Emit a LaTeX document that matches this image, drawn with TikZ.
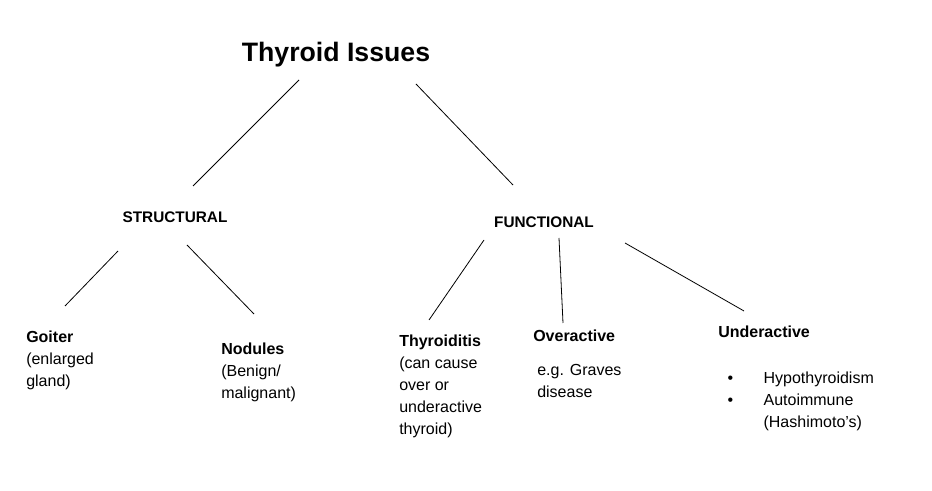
\documentclass[tikz,border=0pt]{standalone}
\usepackage{fontspec}
\setmainfont{Liberation Sans}
\usetikzlibrary{positioning}
\tikzset{
  head/.style={font=\fontsize{20}{24}\selectfont\bfseries},
  group/.style={font=\fontsize{11.5}{14}\selectfont\bfseries},
  item/.style={anchor=north west, inner sep=0pt, align=left, font=\fontsize{12}{16.5}\selectfont},
  link/.style={line width=0.6pt}
}
\begin{document}
\begin{tikzpicture}[x=0.75pt, y=-0.75pt]
  \useasboundingbox (0,0) rectangle (932,491);
  % Nodes
  \node (title) [head] at (336,55) {Thyroid Issues};
  \node (struct) [group] at (175,217) {STRUCTURAL};
  \node (func) [group] at (544,222) {FUNCTIONAL};
  \node (goiter) [item] at (26,331) {\textbf{Goiter}\\(enlarged\\gland)};
  \node (nodules) [item] at (221,343) {\textbf{Nodules}\\(Benign/\\malignant)};
  \node (thyroiditis) [item] at (399,335) {\textbf{Thyroiditis}\\(can cause\\over or\\underactive\\thyroid)};
  \node (over) [item] at (533,330) {\textbf{Overactive}};
  \node (graves) [item] at (537,364) {e.g. Graves\\disease};
  \node (under) [item] at (718,326) {\textbf{Underactive}};
  \node (causes) [item] at (718,372) {\makebox[34pt][l]{\hspace{7pt}\textbullet}Hypothyroidism\\\makebox[34pt][l]{\hspace{7pt}\textbullet}Autoimmune\\\hspace{34pt}(Hashimoto’s)};

  % Connector ends
  \coordinate (t1) at (299,80);  \coordinate (s0) at (193,186);
  \coordinate (t2) at (416,84);  \coordinate (f0) at (513,185);
  \coordinate (s1) at (118,251); \coordinate (g0) at (65,306);
  \coordinate (s2) at (187,245); \coordinate (n0) at (254,314);
  \coordinate (f1) at (484,240); \coordinate (th0) at (429,320);
  \coordinate (f2) at (559,238); \coordinate (o0) at (563,323);
  \coordinate (f3) at (625,243); \coordinate (u0) at (744,311);

  % Lines
  \draw [link] (t1) -- (s0);
  \draw [link] (t2) -- (f0);
  \draw [link] (s1) -- (g0);
  \draw [link] (s2) -- (n0);
  \draw [link] (f1) -- (th0);
  \draw [link] (f2) -- (o0);
  \draw [link] (f3) -- (u0);
\end{tikzpicture}
\end{document}
